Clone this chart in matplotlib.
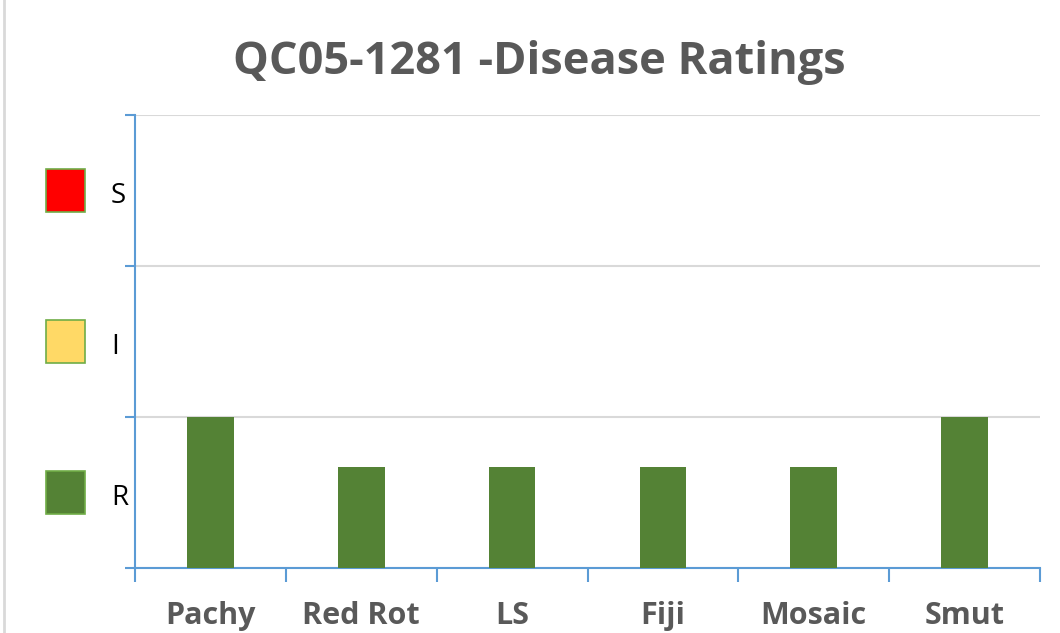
import matplotlib.pyplot as plt
from matplotlib.patches import Rectangle
from matplotlib.transforms import blended_transform_factory

# dati
diseases = ["Pachy", "Red Rot", "LS", "Fiji", "Mosaic", "Smut"]
ratings = [1.0, 0.67, 0.67, 0.67, 0.67, 1.0]
levels = ["R", "I", "S"]
level_colors = ["#548235", "#FFD966", "#FF0000"]

BLUE = "#5B9BD5"
GREY = "#595959"

fig = plt.figure(figsize=(10.6, 6.33), dpi=100)
ax = fig.add_axes([0.1274, 0.1027, 0.8537, 0.7156])

x = range(len(diseases))
ax.bar(x, ratings, width=0.31, color="#548235", zorder=3)

ax.set_xlim(-0.5, len(diseases) - 0.5)
ax.set_ylim(0, len(levels))

# tick sui bordi delle categorie, etichette al centro
ax.set_xticks([i - 0.5 for i in range(len(diseases) + 1)])
ax.set_xticklabels([])
ax.set_xticks(list(x), minor=True)
ax.set_xticklabels(diseases, minor=True, fontsize=22, fontweight="bold",
                   color=GREY, family="Open Sans")
ax.tick_params(axis="x", which="major", direction="out", length=10,
               width=1.5, color=BLUE)
ax.tick_params(axis="x", which="minor", length=0, pad=24)

ax.set_yticks(range(len(levels) + 1))
ax.set_yticklabels([])
ax.tick_params(axis="y", direction="out", length=7, width=1.5, color=BLUE)
ax.yaxis.grid(True, color="#D9D9D9", linewidth=1.5, zorder=0)

for s in ["top", "right"]:
    ax.spines[s].set_visible(False)
for s in ["left", "bottom"]:
    ax.spines[s].set_color(BLUE)
    ax.spines[s].set_linewidth(1.5)

# legenda a sinistra (quadratini colorati)
trans = blended_transform_factory(fig.transFigure, ax.transData)
for i, (lab, col) in enumerate(zip(levels, level_colors)):
    yc = i + 0.5
    ax.add_patch(Rectangle((46 / 1060, yc - 0.145), 39 / 1060, 0.29,
                           transform=trans, facecolor=col,
                           edgecolor="#70AD47", linewidth=1.2,
                           clip_on=False))
    ax.text(111 / 1060, yc - 0.01, lab, transform=trans, fontsize=20,
            family="Open Sans", color="black", va="center_baseline",
            ha="left")

fig.text(0.509, 0.902, "QC05-1281 -Disease Ratings", ha="center",
         va="center", fontsize=32.5, fontweight="bold", color=GREY,
         family="Open Sans")

# bordo grigio del riquadro
fig.add_artist(plt.Line2D([4 / 1060, 4 / 1060], [0, 1], color="#D9D9D9",
                          linewidth=2, transform=fig.transFigure))

plt.savefig("out.png", dpi=100)
